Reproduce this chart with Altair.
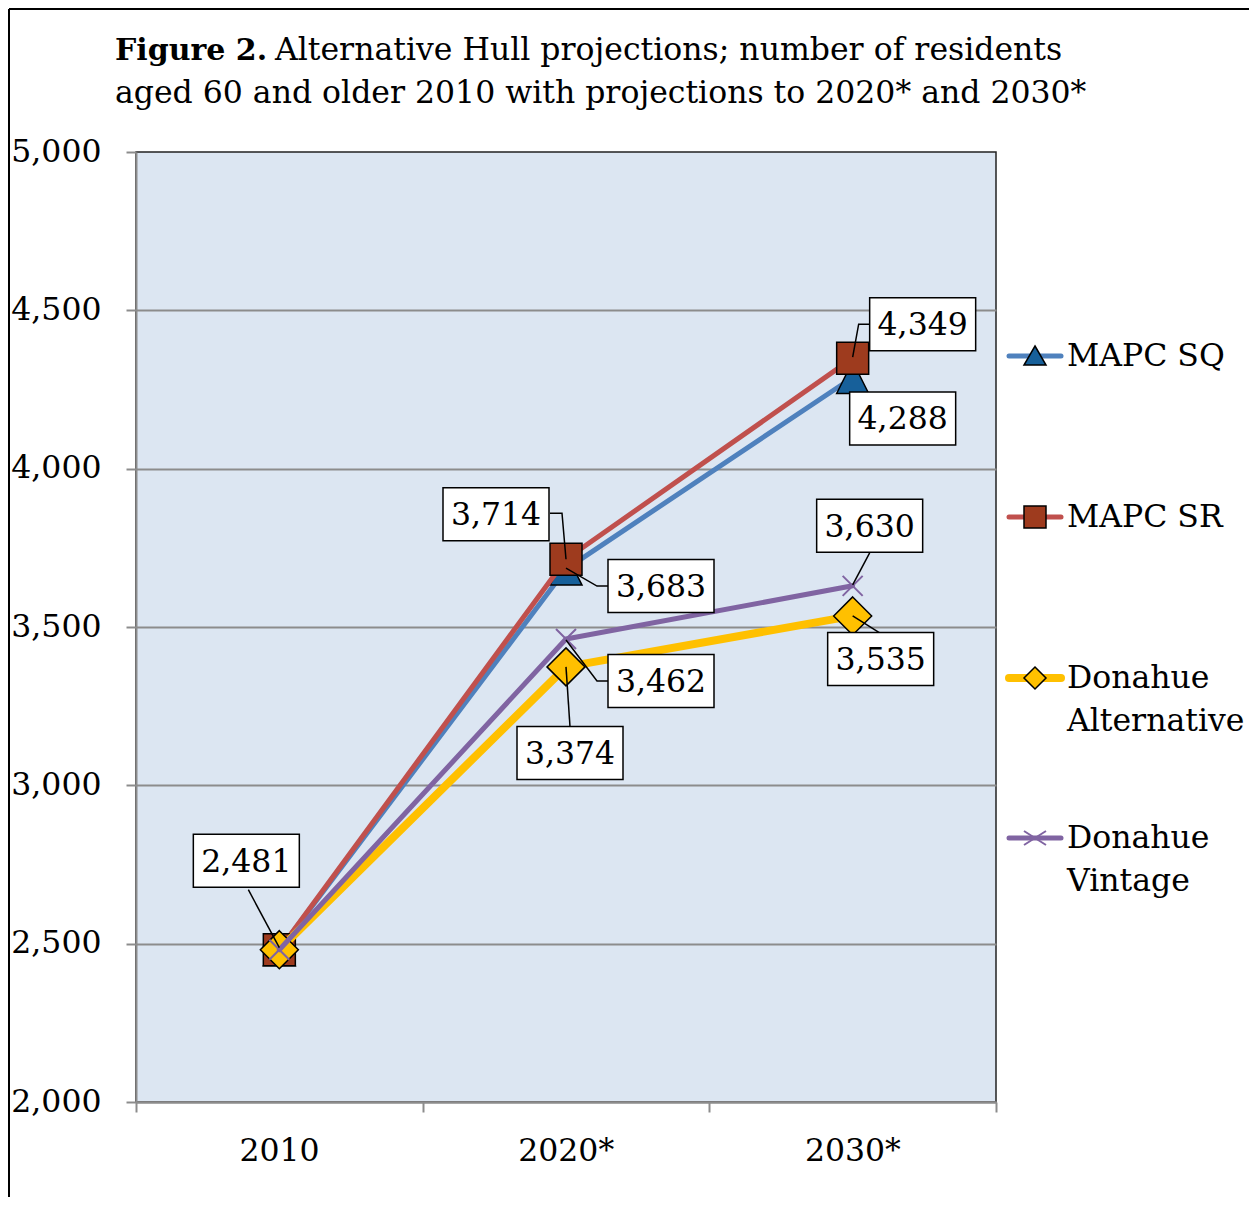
import json
import altair as alt
import pandas as pd

# ---------------- data ----------------
years = ["2010", "2020*", "2030*"]
series = ["MAPC SQ", "MAPC SR", "Donahue Alternative", "Donahue Vintage"]
mapc_sq = [2481, 3683, 4288]
mapc_sr = [2481, 3714, 4349]
donahue_alt = [2481, 3374, 3535]
donahue_vint = [2481, 3462, 3630]
y_ticks = [2000, 2500, 3000, 3500, 4000, 4500, 5000]
legend_lines = [["MAPC SQ"], ["MAPC SR"], ["Donahue", "Alternative"], ["Donahue", "Vintage"]]
title_bold = "Figure 2."
title_rest = "Alternative Hull projections; number of residents"
title_line2 = "aged 60 and older 2010 with projections to 2020* and 2030*"

values = [mapc_sq, mapc_sr, donahue_alt, donahue_vint]
rows = []
for s, vals in zip(series, values):
    for i, (yr, v) in enumerate(zip(years, vals)):
        rows.append({"series": s, "year": yr, "pos": i + 0.5, "value": v, "label": f"{v:,}"})
df = pd.DataFrame(rows)

# ---------------- style ----------------
W, H = 860, 950
FONT = "DejaVu Serif"
FS = 31.5
GRID = "#8C8C8C"

TRI = "M0,-16L16,16L-16,16Z"
SQR = "M-16,-16H16V16H-16Z"
DIA = "M0,-19L19,0L0,19L-19,0Z"
CRS = "M-10,-10L10,10M-10,10L10,-10"
TRI_S = "M0,-10L11,9L-11,9Z"
SQR_S = "M-11,-11H11V11H-11Z"
DIA_S = "M0,-11L11,0L0,11L-11,0Z"
CRS_S = "M-11,-7L11,7M-11,7L11,-7"

styles = {
    "MAPC SQ": dict(color="#4F81BD", w=5, fill="#17609A", shape=TRI, small=TRI_S, filled=True),
    "MAPC SR": dict(color="#C0504D", w=5, fill="#9E3B1E", shape=SQR, small=SQR_S, filled=True),
    "Donahue Alternative": dict(color="#FFC000", w=8, fill="#FFC000", shape=DIA, small=DIA_S, filled=True),
    "Donahue Vintage": dict(color="#8064A2", w=5, fill=None, shape=CRS, small=CRS_S, filled=False),
}

x_enc = alt.X(
    "pos:Q",
    scale=alt.Scale(domain=[0, 3], nice=False, zero=False),
    axis=alt.Axis(
        values=[0, 1, 2, 3],
        labelExpr=json.dumps(years + [""]) + "[datum.value]",
        labelOffset=143,
        labelFlush=False,
        labelOverlap=False,
        labelBound=False,
        grid=False,
        title=None,
        domainColor=GRID, domainWidth=2,
        tickColor=GRID, tickWidth=2, tickSize=10,
        labelFont=FONT, labelFontSize=FS, labelColor="black", labelPadding=23,
    ),
)
y_enc = alt.Y(
    "value:Q",
    scale=alt.Scale(domain=[2000, 5000], nice=False, zero=False),
    axis=alt.Axis(
        values=y_ticks, format=",.0f", title=None,
        grid=True, gridWidth=2,
        gridColor=alt.condition("datum.value >= 5000", alt.value("transparent"), alt.value(GRID)),
        domainColor=GRID, domainWidth=2,
        tickColor=GRID, tickWidth=2, tickSize=10,
        labelFont=FONT, labelFontSize=FS, labelColor="black", labelPadding=25,
    ),
)

layers = []
one = alt.Data(values=[{}])

# series lines + markers (Excel draw order)
for s in series:
    st = styles[s]
    sd = df[df.series == s]
    layers.append(
        alt.Chart(sd).mark_line(color=st["color"], strokeWidth=st["w"], strokeJoin="round", strokeCap="round")
        .encode(x=x_enc, y=y_enc)
    )
    if st["filled"]:
        pm = alt.Chart(sd).mark_point(shape=st["shape"], size=4, filled=True, fill=st["fill"],
                                      stroke="black", strokeWidth=1.5, opacity=1, fillOpacity=1)
    else:
        pm = alt.Chart(sd).mark_point(shape=st["shape"], size=4, filled=False,
                                      stroke=st["color"], strokeWidth=2, opacity=1)
    layers.append(pm.encode(x=x_enc, y=y_enc))

# data labels: (series, year index) -> (box offset dx, dy, leader path)
label_layout = [
    ("MAPC SR", 0, -33, -89, "M-31,-60L0,-2"),
    ("MAPC SR", 1, -70, -45, "M-16,-46L-4,-46L0,0"),
    ("MAPC SQ", 1, 95, 17, "M0,-1L31,17L42,17"),
    ("Donahue Vintage", 1, 95, 42, "M0,1L31,42L42,42"),
    ("Donahue Alternative", 1, 4, 86, "M0,0L4,60"),
    ("MAPC SR", 2, 70, -34, "M0,-1L6,-34L17,-34"),
    ("MAPC SQ", 2, 50, 41, "M0,0L0,0"),
    ("Donahue Vintage", 2, 17, -60, "M17,-33L0,-1"),
    ("Donahue Alternative", 2, 28, 43, "M0,0L27,17"),
]
BW, BH = 53, 26.5
for s, i, dx, dy, leader in label_layout:
    ld = df[(df.series == s) & (df.year == years[i])]
    box = f"M{dx-BW},{dy-BH}H{dx+BW}V{dy+BH}H{dx-BW}Z"
    layers.append(alt.Chart(ld).mark_point(shape=leader, size=4, filled=False, stroke="black",
                                           strokeWidth=1.5, opacity=1).encode(x=x_enc, y=y_enc))
    layers.append(alt.Chart(ld).mark_point(shape=box, size=4, filled=True, fill="white", fillOpacity=1,
                                           stroke="black", strokeWidth=1.5, opacity=1).encode(x=x_enc, y=y_enc))
    layers.append(alt.Chart(ld).mark_text(dx=dx, dy=dy + 2, font=FONT, fontSize=FS, color="black",
                                          align="center", baseline="middle")
                  .encode(x=x_enc, y=y_enc, text="label:N"))

# legend (manual)
LEG_Y = [204, 365, 526, 686]
for s, ly, lines in zip(series, LEG_Y, legend_lines):
    st = styles[s]
    layers.append(alt.Chart(one).mark_rule(color=st["color"], strokeWidth=st["w"], strokeCap="round")
                  .encode(x=alt.value(873), x2=alt.value(925), y=alt.value(ly)))
    if st["filled"]:
        pm = alt.Chart(one).mark_point(shape=st["small"], size=4, filled=True, fill=st["fill"],
                                       stroke="black", strokeWidth=1.5, opacity=1)
    else:
        pm = alt.Chart(one).mark_point(shape=st["small"], size=4, filled=False,
                                       stroke=st["color"], strokeWidth=2, opacity=1)
    layers.append(pm.encode(x=alt.value(899), y=alt.value(ly)))
    for k, line in enumerate(lines):
        layers.append(alt.Chart(one).mark_text(text=line, font=FONT, fontSize=FS, color="black",
                                               align="left", baseline="middle")
                      .encode(x=alt.value(931), y=alt.value(ly + 1 + 43 * k)))

# title
layers.append(alt.Chart(one).mark_text(text=title_bold, font=FONT, fontSize=30, fontWeight="bold",
                                       color="black", align="left", baseline="alphabetic")
              .encode(x=alt.value(-21), y=alt.value(-92)))
layers.append(alt.Chart(one).mark_text(text=title_rest, font=FONT, fontSize=FS, color="black",
                                       align="left", baseline="alphabetic")
              .encode(x=alt.value(139), y=alt.value(-92)))
layers.append(alt.Chart(one).mark_text(text=title_line2, font=FONT, fontSize=FS, color="black",
                                       align="left", baseline="alphabetic")
              .encode(x=alt.value(-21), y=alt.value(-49)))

# outer frame
layers.append(alt.Chart(one).mark_rule(color="black", strokeWidth=2)
              .encode(x=alt.value(-127), y=alt.value(-143), y2=alt.value(1300)))
layers.append(alt.Chart(one).mark_rule(color="black", strokeWidth=2)
              .encode(x=alt.value(-127), x2=alt.value(1300), y=alt.value(-143)))

chart = (
    alt.layer(*layers)
    .properties(width=W, height=H, autosize=alt.AutoSizeParams(type="none"),
                padding={"left": 128, "top": 144, "right": 253, "bottom": 95},
                background="white")
    .configure_view(fill="#DCE6F2", stroke="#222222", strokeWidth=1.5)
)

chart.save("out.html", embed_options={"renderer": "svg", "actions": False})
